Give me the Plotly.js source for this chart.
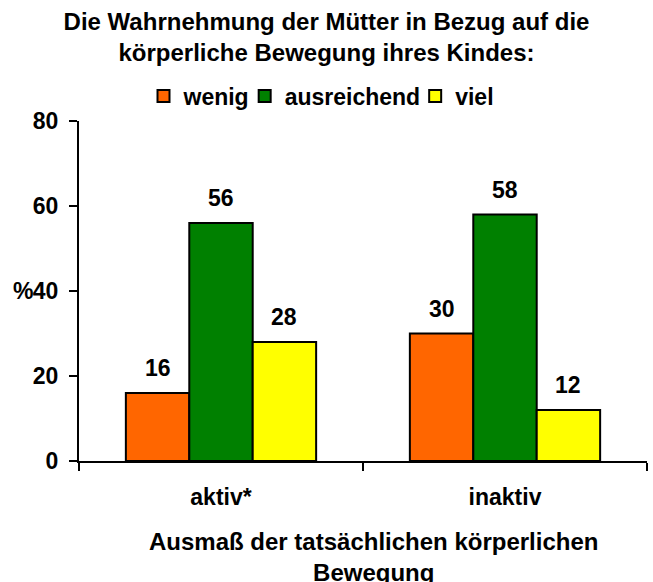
<!DOCTYPE html>
<html>
<head>
<meta charset="utf-8">
<script src="https://cdn.plot.ly/plotly-3.0.1.min.js"></script>
<style>html,body{margin:0;padding:0;background:#fff;}#chart{width:653px;height:582px;}</style>
</head>
<body>
<div id="chart"></div>
<script>
const categories = ["aktiv*", "inaktiv"];
const seriesNames = ["wenig", "ausreichend", "viel"];
const wenig = [16, 30];
const ausreichend = [56, 58];
const viel = [28, 12];
const yTicks = [0, 20, 40, 60, 80];
const yTickLabels = ["0", "20", "40", "60", "80"];
const colors = ["#FF6600", "#008000", "#FFFF00"];

const FONT = "Liberation Sans";
const FS = 23;
const values = [wenig, ausreichend, viel];
const b = s => "<b>" + s + "</b>";

const traces = values.map((v, i) => ({
  type: "bar",
  name: b(seriesNames[i]),
  x: categories,
  y: v,
  marker: { color: colors[i], line: { color: "#000", width: 2 } },
  hoverinfo: "none"
}));

const barPx = 63.4;
const annotations = [];
values.forEach((v, i) => {
  v.forEach((val, j) => {
    annotations.push({
      x: categories[j], y: val, xref: "x", yref: "y",
      text: b(String(val)), showarrow: false,
      xshift: (i - 1) * barPx, yshift: 25, yanchor: "middle",
      font: { family: FONT, size: FS, color: "#000" }
    });
  });
});
annotations.push({
  x: 0, y: 40, xref: "paper", yref: "y", text: b("%"), showarrow: false,
  xanchor: "right", yanchor: "middle", xshift: -44,
  font: { family: FONT, size: FS, color: "#000" }
});
annotations.push({
  x: 0.519, y: -0.19, xref: "paper", yref: "paper",
  text: b("Ausmaß der tatsächlichen körperlichen<br>Bewegung"), showarrow: false,
  xanchor: "center", yanchor: "top",
  font: { family: FONT, size: 24, color: "#000" }
});

const layout = {
  width: 653, height: 582,
  margin: { l: 79, r: 6, t: 121, b: 121 },
  paper_bgcolor: "#fff", plot_bgcolor: "#fff",
  barmode: "group", bargap: 0.33, bargroupgap: 0,
  title: {
    text: b("Die Wahrnehmung der Mütter in Bezug auf die<br>körperliche Bewegung ihres Kindes:"),
    x: 0.5, xref: "container", xanchor: "center",
    y: 1 - 30 / 582, yref: "container", yanchor: "middle",
    font: { family: FONT, size: 24, color: "#000" }
  },
  showlegend: true,
  legend: {
    orientation: "h", xref: "container", yref: "container",
    x: 0.5, xanchor: "center", y: 1 - 96 / 582, yanchor: "middle",
    font: { family: FONT, size: FS, color: "#000" },
    itemwidth: 30, tracegroupgap: 0, indentation: -10
  },
  xaxis: {
    type: "category", showline: true, linecolor: "#000", linewidth: 2,
    ticks: "outside", tickson: "boundaries", ticklen: 8, tickwidth: 2, tickcolor: "#000",
    ticklabelstandoff: 14,
    tickvals: categories, ticktext: categories.map(b),
    tickfont: { family: FONT, size: FS, color: "#000" },
    showgrid: false, zeroline: false, fixedrange: true
  },
  yaxis: {
    range: [0, 80], tickvals: yTicks, ticktext: yTickLabels.map(b),
    showline: true, linecolor: "#000", linewidth: 2,
    ticks: "outside", ticklen: 8, tickwidth: 2, tickcolor: "#000",
    ticklabelstandoff: 6,
    tickfont: { family: FONT, size: FS, color: "#000" },
    showgrid: false, zeroline: false, fixedrange: true
  },
  annotations: annotations
};

Plotly.newPlot("chart", traces, layout, { displayModeBar: false, staticPlot: true });
</script>
</body>
</html>
